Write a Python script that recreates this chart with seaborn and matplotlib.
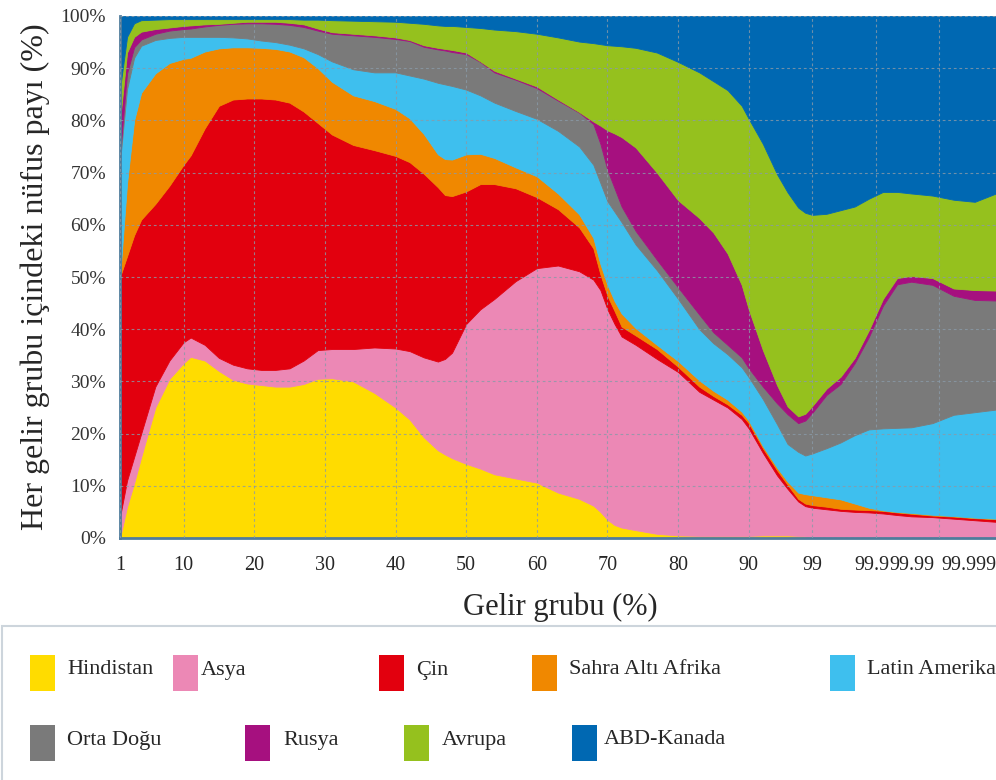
import numpy as np
import matplotlib
matplotlib.use("Agg")
import matplotlib.pyplot as plt
import matplotlib.transforms as mtransforms
import seaborn as sns
from matplotlib.patches import Rectangle

# ---------------- data ----------------
# x position = income-group index (1 -> 0, 10 -> 9, ..., 99 -> 98, 99.9 -> 107, 99.99 -> 116)
u = [0, 1, 2, 3, 5, 7, 9, 10, 12, 14, 16, 18, 20, 22, 24, 26, 28, 30, 33, 36, 39, 41, 43, 45, 46,
     47, 49, 51, 53, 56, 59, 62, 65, 67, 68, 69, 70, 71, 73, 76, 79, 82, 84, 86, 88, 89, 91, 93,
     94.5, 96, 97, 98, 100, 102, 104, 106, 108, 110, 112, 115, 118, 121, 124]

# upper edge (cumulative %) of each band
top_hindistan = [0, 6, 10.5, 15.5, 25, 30.5, 33.5, 34.7, 34, 32, 30.3, 29.6, 29.3, 29, 29, 29.5, 30.5,
                 30.6, 30, 27.8, 25, 22.7, 19.3, 16.8, 16, 15.3, 14.2, 13.3, 12.2, 11.4, 10.6, 8.7,
                 7.5, 6.2, 5, 3.5, 2.5, 2, 1.5, 0.8, 0.5, 0.4, 0.4, 0.4, 0.4, 0.4, 0.5, 0.5, 0.5,
                 0.4, 0.3, 0.2, 0, 0, 0, 0, 0, 0, 0, 0, 0, 0, 0]
top_asya = [4, 11, 15.5, 20, 29, 34, 37.5, 38.4, 37, 34.5, 33.2, 32.5, 32.2, 32.2, 32.5, 34, 36, 36.2,
            36.2, 36.5, 36.3, 35.8, 34.6, 33.8, 34.3, 35.5, 41, 43.8, 45.8, 49.2, 51.7, 52.2, 51.1,
            49.5, 47.5, 43.8, 41, 38.6, 37, 34.3, 31.8, 28, 26.5, 25, 22.8, 21, 16.3, 12, 9.4, 7,
            6.1, 5.8, 5.5, 5.2, 5.0, 4.9, 4.7, 4.4, 4.15, 4.0, 3.7, 3.4, 3.1]
top_cin = [50, 54, 58, 61, 64, 67.5, 71.5, 73.3, 78.5, 82.8, 84, 84.2, 84.2, 84, 83.4, 81.7, 79.5,
           77.3, 75.3, 74.3, 73.2, 72, 69.8, 67.2, 65.7, 65.5, 66.4, 67.8, 67.8, 67, 65.3, 63,
           59.5, 55.5, 50.5, 46.4, 43.5, 40.5, 38.8, 36.2, 32.8, 29, 27.2, 25.6, 23.6, 22, 17.2,
           13, 10.2, 7.5, 6.6, 6.3, 6.0, 5.6, 5.45, 5.35, 5.2, 4.9, 4.65, 4.3, 4.1, 3.8, 3.6]
top_sahra = [50, 68, 80, 85.3, 89, 91, 91.8, 92, 93.2, 93.8, 94, 94, 93.9, 93.7, 93.2, 92.1, 90,
             87.4, 84.8, 83.7, 82.2, 80.4, 77.4, 73.5, 72.6, 72.5, 73.5, 73.6, 72.8, 71, 69.3, 66,
             62, 57.5, 52.5, 48.5, 45.4, 43, 40.2, 37, 33.9, 30.2, 28.2, 26.5, 24.2, 22.5, 17.6,
             13.5, 10.8, 8.7, 8.4, 8.2, 7.8, 7.4, 6.6, 5.8, 5.3, 5.0, 4.8, 4.45, 4.2, 3.9, 3.7]
top_latin = [72, 86, 92, 94.3, 95.4, 95.8, 96, 96, 96, 96, 95.9, 95.7, 95.3, 95, 94.5, 93.8, 92.7,
             91.3, 89.8, 89.2, 89.2, 88.6, 88, 87.2, 86.9, 86.6, 85.9, 84.8, 83.4, 81.8, 80.3, 78,
             75, 71.5, 68, 64.5, 62.5, 60.5, 56.2, 51.3, 45.8, 40, 37.3, 35.2, 32.7, 30.8, 26.6,
             21.8, 18, 16.5, 15.8, 16.2, 17.2, 18.3, 19.7, 20.8, 21, 21.1, 21.2, 22, 23.6, 24.1, 24.6]
top_ortadogu = [73.5, 89, 94, 95.5, 96.6, 97.2, 97.5, 97.6, 98, 98.3, 98.5, 98.6, 98.6, 98.5, 98.3,
                97.9, 97.2, 96.6, 96.3, 96, 95.6, 95.2, 94.1, 93.6, 93.4, 93.1, 92.7, 91.2, 89.2,
                87.8, 86.2, 83.8, 81.5, 79.3, 75.5, 70.5, 67, 63.5, 58.8, 53.3, 48, 42.8, 39.4, 37,
                34.6, 32.5, 29, 25.8, 23.7, 22, 22.5, 24, 27.4, 29.5, 33.5, 38.5, 44.5, 48.6, 49.1,
                48.5, 46.4, 45.6, 45.5]
top_rusya = [80, 93, 96, 97, 97.5, 97.8, 98.1, 98.2, 98.4, 98.5, 98.7, 98.9, 98.9, 98.9, 98.7, 98.4,
             97.6, 96.9, 96.6, 96.3, 95.9, 95.4, 94.4, 93.9, 93.7, 93.5, 93, 91.3, 89.5, 88, 86.5,
             84, 81.6, 79.8, 79, 78.1, 77.5, 76.8, 74.8, 70, 64.7, 61.3, 58.5, 54.5, 48.5, 43.8,
             36, 29.3, 25.2, 23.3, 23.8, 25.3, 28.6, 30.9, 34.5, 39.8, 45.8, 49.8, 50.2, 49.8,
             47.8, 47.5, 47.4]
top_avrupa = [86, 96, 98.6, 99.2, 99.3, 99.4, 99.4, 99.4, 99.4, 99.4, 99.4, 99.4, 99.4, 99.4, 99.4,
              99.3, 99.3, 99.2, 99.1, 99, 98.9, 98.7, 98.5, 98.2, 98.1, 98.1, 97.9, 97.7, 97.4,
              97.1, 96.6, 95.9, 95.1, 94.8, 94.6, 94.4, 94.3, 94.2, 93.9, 93, 91.2, 89.2, 87.5,
              85.8, 82.8, 80.3, 75.5, 69.7, 66.2, 63.3, 62.3, 61.9, 62.1, 62.8, 63.5, 65, 66.3,
              66.3, 66, 65.6, 64.8, 64.4, 66]

regions = ["Hindistan", "Asya", "Çin", "Sahra Altı Afrika", "Latin Amerika",
           "Orta Doğu", "Rusya", "Avrupa", "ABD-Kanada"]
colors = ["#FFDC00", "#EC88B5", "#E2000E", "#F08800", "#3EBFEE",
          "#7A7A7A", "#A6107F", "#95C11E", "#0068B2"]

tick_pos = [0, 9, 19, 29, 39, 49, 59, 69, 79, 89, 98, 107, 116]
tick_labels = ["1", "10", "20", "30", "40", "50", "60", "70", "80", "90", "99", "99.9", "99.99"]
last_label = "99.999"
y_ticks = list(range(0, 101, 10))

# ---------------- style ----------------
sns.set_style("white")
plt.rcParams["font.family"] = ["Liberation Serif", "DejaVu Serif"]

tops = np.vstack([top_hindistan, top_asya, top_cin, top_sahra, top_latin,
                  top_ortadogu, top_rusya, top_avrupa, np.full(len(u), 100.0)])
bottoms = np.vstack([np.zeros(len(u)), tops[:-1]])
shares = tops - bottoms

W, H = 996, 780
fig = plt.figure(figsize=(W / 100, H / 100), dpi=100)
ax = fig.add_axes([120 / W, 1 - 538 / H, 876 / W, 522 / H])

polys = ax.stackplot(u, shares, colors=colors, labels=regions, linewidth=0)
for p, c in zip(polys, colors):
    p.set_edgecolor(c)
    p.set_linewidth(0.6)

spine_c = "#4F7C9C"
ax.set_xlim(0, 124)
ax.set_ylim(0, 100)
ax.set_xticks(tick_pos)
ax.set_xticklabels(tick_labels, fontsize=14.5)
ax.set_yticks(y_ticks)
ax.set_yticklabels([f"{v}%" for v in y_ticks], fontsize=14, color="#333333")

ax.grid(True, color="#8a9aa8", linestyle=(0, (2.5, 2.5)), linewidth=0.8, alpha=0.8)
ax.set_axisbelow(False)
for s in ["right", "top"]:
    ax.spines[s].set_visible(False)
for s in ["left", "bottom"]:
    ax.spines[s].set_color(spine_c)
    ax.spines[s].set_linewidth(2)
ax.tick_params(axis="x", direction="out", length=8, width=2, color=spine_c, pad=5)
ax.tick_params(axis="y", direction="out", length=6, width=2, color=spine_c, pad=4)

# crowded top-percentile labels: nudge "99.9"/"99.99" left, last label right-aligned at the edge
xlabels = ax.get_xticklabels()
for lbl, dx in [(xlabels[-2], -4), (xlabels[-1], -28)]:
    lbl.set_transform(lbl.get_transform() +
                      mtransforms.ScaledTranslation(dx / 100, 0, fig.dpi_scale_trans))
ax.annotate(last_label, xy=(124, 0), xycoords="data", xytext=(0, -13),
            textcoords="offset points", ha="right", va="top", fontsize=14.5)

ax.set_ylabel("Her gelir grubu içindeki nüfus payı (%)", fontsize=23, labelpad=8)
fig.text(560 / W, 1 - 607 / H, "Gelir grubu (%)", ha="center", va="center", fontsize=22)

# ---------------- legend ----------------
fig.patches.append(Rectangle((2 / W, -0.05), 1.1, (780 - 626) / H + 0.05,
                             transform=fig.transFigure, facecolor="none",
                             edgecolor="#cdd5dc", linewidth=1.5))
leg_patch_x = [30, 173, 379, 532, 830, 30, 245, 404, 572]
leg_text_x = [67, 201, 416, 569, 867, 67, 283, 442, 604]
leg_row_y = [673, 673, 673, 673, 673, 743, 743, 743, 743]
for name, c, px, tx, ry in zip(regions, colors, leg_patch_x, leg_text_x, leg_row_y):
    fig.patches.append(Rectangle((px / W, 1 - (ry + 18) / H), 25 / W, 36 / H,
                                 transform=fig.transFigure, facecolor=c, edgecolor="none"))
    fig.text(tx / W, 1 - (ry - 3) / H, name, ha="left", va="center", fontsize=16)

fig.savefig("out.png", dpi=100)
